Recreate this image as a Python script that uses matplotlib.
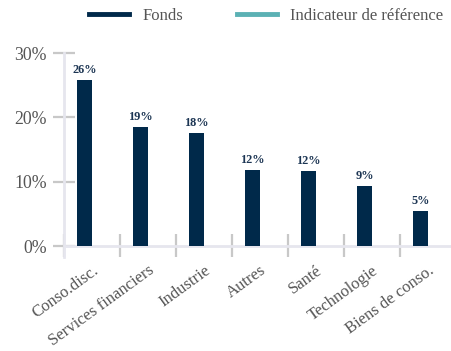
import matplotlib
matplotlib.use("Agg")
import matplotlib.pyplot as plt
import numpy as np
from matplotlib.lines import Line2D

# --- dati ---
categorie = ["Conso.disc.", "Services financiers", "Industrie", "Autres",
             "Santé", "Technologie", "Biens de conso."]
fonds = [25.8, 18.5, 17.6, 11.8, 11.7, 9.3, 5.4]
etichette = ["26%", "19%", "18%", "12%", "12%", "9%", "5%"]
y_ticks = [0, 10, 20, 30]

NAVY = "#00294a"
TEAL = "#5bb1b4"
GRIGIO = "#c8c8c8"
LAVANDA = "#e6e6ee"
TESTO = "#555555"

plt.rcParams["font.family"] = ["Liberation Serif", "DejaVu Serif"]

fig = plt.figure(figsize=(4.51, 3.51), dpi=100)
W, H = 451, 351
ax = fig.add_axes([64 / W, (H - 257) / H, (W - 64) / W, 204 / H])

x = np.arange(len(categorie))
larg = 0.27
ax.bar(x - larg / 2, fonds, width=larg, color=NAVY, zorder=3)

for xi, v, lab in zip(x, fonds, etichette):
    ax.text(xi - larg / 2, v + 0.6, lab, ha="center", va="bottom",
            fontsize=8.8, fontweight="bold", color="#1c3553")

ax.set_xlim(-0.5, 6.41)
ax.set_ylim(-1.7, 30)

# linea di base
ax.axhline(0, color=LAVANDA, lw=2, zorder=2)

for s in ["top", "right", "bottom"]:
    ax.spines[s].set_visible(False)
ax.spines["left"].set_color(LAVANDA)
ax.spines["left"].set_linewidth(2)
ax.spines["left"].set_bounds(-1.7, 30)

ax.set_yticks(y_ticks)
ax.set_yticklabels([f"{t}%" for t in y_ticks])
ax.tick_params(axis="y", direction="inout", length=16.5, width=1.6,
               color=GRIGIO, labelsize=12.8, labelcolor=TESTO, pad=4)

ax.set_xticks(x)
ax.set_xticklabels(categorie, rotation=36, ha="right", rotation_mode="anchor")
ax.tick_params(axis="x", which="major", length=0, labelsize=12,
               labelcolor=TESTO, pad=4)
ax.set_xticks(x - 0.5, minor=True)
ax.tick_params(axis="x", which="minor", direction="in", length=16.5,
               width=1.6, color=GRIGIO)

handles = [Line2D([0], [0], color=NAVY, lw=3.5, label="Fonds"),
           Line2D([0], [0], color=TEAL, lw=3.5, label="Indicateur de référence")]
leg = fig.legend(handles=handles, loc="upper center", bbox_to_anchor=(0.59, 1.02),
                 ncol=2, frameon=False, fontsize=12, handlelength=2.4,
                 handletextpad=0.8, columnspacing=3.2)
for t in leg.get_texts():
    t.set_color(TESTO)

fig.savefig("out.png", dpi=100)
